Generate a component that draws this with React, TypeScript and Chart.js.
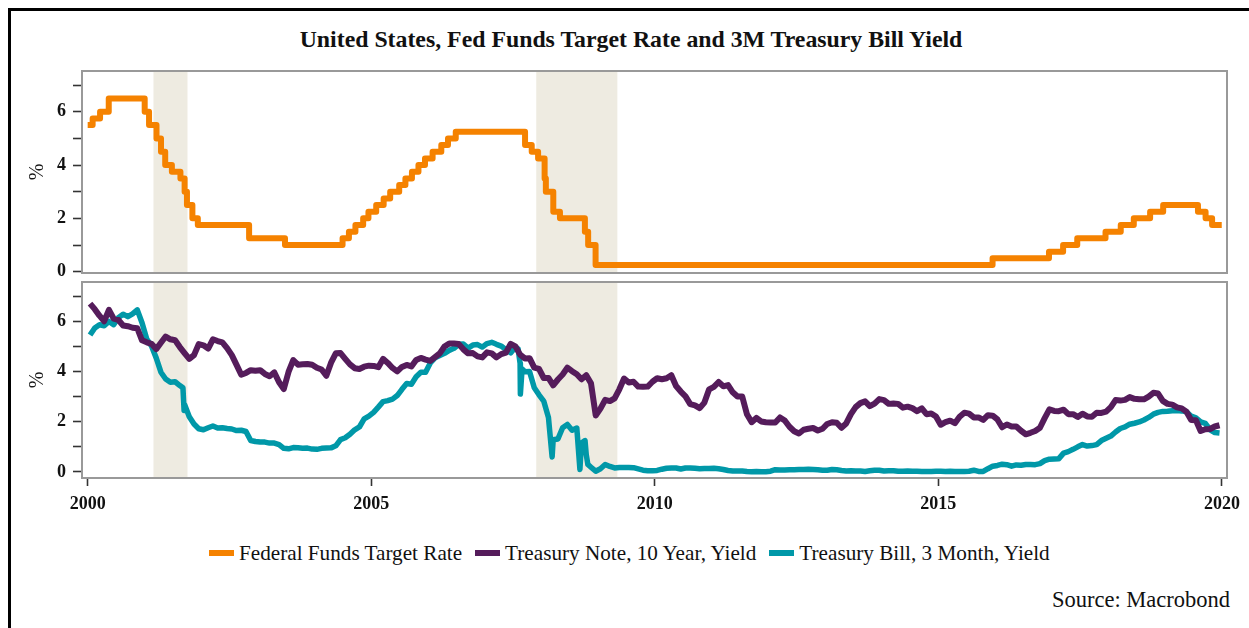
import { useEffect, useRef } from 'react';
import { Chart, registerables } from 'chart.js';

Chart.register(...registerables);

// ---------- DATA ----------
const fedFundsDates = [
  '2000-01-01', '2000-02-02', '2000-03-21', '2000-05-16', '2001-01-03', '2001-01-31',
  '2001-03-20', '2001-04-18', '2001-05-15', '2001-06-27', '2001-08-21', '2001-09-17',
  '2001-10-02', '2001-11-06', '2001-12-11', '2002-11-06', '2003-06-25', '2004-06-30',
  '2004-08-10', '2004-09-21', '2004-11-10', '2004-12-14', '2005-02-02', '2005-03-22',
  '2005-05-03', '2005-06-30', '2005-08-09', '2005-09-20', '2005-11-01', '2005-12-13',
  '2006-01-31', '2006-03-28', '2006-05-10', '2006-06-29', '2007-09-18', '2007-10-31',
  '2007-12-11', '2008-01-22', '2008-01-30', '2008-03-18', '2008-04-30', '2008-10-08',
  '2008-10-29', '2008-12-16', '2015-12-16', '2016-12-14', '2017-03-15', '2017-06-14',
  '2017-12-13', '2018-03-21', '2018-06-13', '2018-09-26', '2018-12-19', '2019-07-31',
  '2019-09-18', '2019-10-30', '2019-12-31',
];
const fedFundsValues = [
  5.5, 5.75, 6.0, 6.5, 6.0, 5.5,
  5.0, 4.5, 4.0, 3.75, 3.5, 3.0,
  2.5, 2.0, 1.75, 1.25, 1.0, 1.25,
  1.5, 1.75, 2.0, 2.25, 2.5, 2.75,
  3.0, 3.25, 3.5, 3.75, 4.0, 4.25,
  4.5, 4.75, 5.0, 5.25, 4.75, 4.5,
  4.25, 3.5, 3.0, 2.25, 2.0, 1.5,
  1.0, 0.25, 0.5, 0.75, 1.0, 1.25,
  1.5, 1.75, 2.0, 2.25, 2.5, 2.25,
  2.0, 1.75, 1.75,
];

// monthly values, Jan 2000 .. Dec 2019
const yieldStartYear = 2000;
const tenYearYield = [
  6.70, 6.48, 6.22, 6.00, 6.45, 6.10, 6.05, 5.83, 5.80, 5.74, 5.72, 5.24,
  5.16, 5.10, 4.89, 5.14, 5.39, 5.28, 5.24, 4.97, 4.73, 4.50, 4.65, 5.09,
  5.04, 4.91, 5.28, 5.21, 5.16, 4.93, 4.65, 4.26, 3.87, 3.94, 4.05, 4.03,
  4.05, 3.90, 3.81, 3.96, 3.57, 3.30, 3.98, 4.45, 4.27, 4.29, 4.30, 4.27,
  4.15, 4.08, 3.83, 4.35, 4.72, 4.73, 4.50, 4.28, 4.13, 4.10, 4.19, 4.23,
  4.22, 4.17, 4.50, 4.34, 4.14, 4.00, 4.18, 4.26, 4.20, 4.46, 4.54, 4.47,
  4.42, 4.57, 4.72, 4.99, 5.11, 5.11, 5.09, 4.88, 4.72, 4.73, 4.60, 4.56,
  4.76, 4.72, 4.56, 4.69, 4.75, 5.10, 5.00, 4.67, 4.52, 4.53, 4.15, 4.10,
  3.74, 3.74, 3.45, 3.68, 3.88, 4.15, 4.01, 3.89, 3.69, 3.85, 3.53, 2.25,
  2.52, 2.87, 2.82, 2.93, 3.29, 3.72, 3.56, 3.59, 3.40, 3.39, 3.40, 3.59,
  3.73, 3.69, 3.73, 3.85, 3.42, 3.20, 3.01, 2.70, 2.65, 2.54, 2.76, 3.29,
  3.39, 3.58, 3.41, 3.46, 3.17, 3.00, 3.00, 2.30, 1.98, 2.15, 2.01, 1.98,
  1.97, 1.97, 2.17, 2.05, 1.80, 1.62, 1.53, 1.68, 1.72, 1.75, 1.65, 1.72,
  1.91, 1.98, 1.96, 1.76, 1.93, 2.30, 2.58, 2.74, 2.81, 2.62, 2.72, 2.90,
  2.86, 2.71, 2.72, 2.71, 2.56, 2.60, 2.54, 2.42, 2.53, 2.30, 2.33, 2.21,
  1.88, 1.98, 2.04, 1.94, 2.20, 2.36, 2.32, 2.17, 2.17, 2.07, 2.26, 2.24,
  2.09, 1.78, 1.89, 1.81, 1.81, 1.64, 1.50, 1.56, 1.63, 1.76, 2.14, 2.49,
  2.43, 2.42, 2.48, 2.30, 2.30, 2.19, 2.32, 2.21, 2.20, 2.36, 2.35, 2.40,
  2.58, 2.86, 2.84, 2.87, 2.98, 2.91, 2.89, 2.89, 3.00, 3.15, 3.12, 2.83,
  2.71, 2.68, 2.57, 2.53, 2.40, 2.07, 2.06, 1.63, 1.70, 1.71, 1.81, 1.86,
];
const threeMonthYield = [
  5.45, 5.73, 5.86, 5.82, 5.99, 5.86, 6.14, 6.28, 6.18, 6.29, 6.45, 5.94,
  5.29, 5.01, 4.54, 3.97, 3.70, 3.57, 3.59, 3.44, 2.69, 2.20, 1.91, 1.72,
  1.68, 1.76, 1.83, 1.75, 1.76, 1.73, 1.71, 1.65, 1.66, 1.61, 1.25, 1.21,
  1.19, 1.19, 1.15, 1.15, 1.09, 0.94, 0.92, 0.97, 0.96, 0.94, 0.95, 0.91,
  0.90, 0.94, 0.95, 0.96, 1.04, 1.29, 1.36, 1.50, 1.68, 1.79, 2.11, 2.22,
  2.37, 2.58, 2.80, 2.84, 2.90, 3.04, 3.29, 3.52, 3.49, 3.79, 3.97, 3.97,
  4.34, 4.54, 4.63, 4.72, 4.84, 4.92, 5.08, 5.09, 4.93, 5.05, 5.07, 4.97,
  5.11, 5.16, 5.08, 5.01, 4.87, 4.74, 4.96, 4.32, 3.99, 4.00, 3.35, 3.07,
  2.82, 2.17, 1.28, 1.31, 1.76, 1.89, 1.66, 1.75, 1.15, 0.69, 0.19, 0.03,
  0.13, 0.30, 0.22, 0.16, 0.18, 0.18, 0.18, 0.17, 0.12, 0.07, 0.05, 0.05,
  0.06, 0.11, 0.15, 0.16, 0.16, 0.12, 0.16, 0.16, 0.15, 0.13, 0.14, 0.14,
  0.15, 0.13, 0.10, 0.06, 0.04, 0.04, 0.04, 0.02, 0.01, 0.02, 0.01, 0.01,
  0.03, 0.09, 0.08, 0.08, 0.09, 0.09, 0.10, 0.10, 0.11, 0.10, 0.09, 0.07,
  0.07, 0.10, 0.09, 0.06, 0.04, 0.05, 0.04, 0.04, 0.02, 0.05, 0.07, 0.07,
  0.04, 0.05, 0.05, 0.03, 0.03, 0.04, 0.03, 0.03, 0.02, 0.02, 0.02, 0.03,
  0.03, 0.02, 0.03, 0.02, 0.02, 0.02, 0.03, 0.07, 0.02, 0.02, 0.13, 0.23,
  0.26, 0.31, 0.29, 0.23, 0.28, 0.27, 0.30, 0.30, 0.29, 0.33, 0.45, 0.51,
  0.52, 0.53, 0.75, 0.81, 0.90, 1.00, 1.09, 1.03, 1.05, 1.09, 1.25, 1.34,
  1.43, 1.59, 1.73, 1.79, 1.90, 1.94, 1.99, 2.07, 2.17, 2.30, 2.37, 2.41,
  2.42, 2.44, 2.45, 2.43, 2.40, 2.22, 2.15, 1.99, 1.93, 1.68, 1.57, 1.55,
];
// extra daily extremes of the 3M bill (decimal year, %)
const threeMonthSpikeYears = [2001.68, 2001.70, 2007.59, 2007.63, 2007.66, 2008.19, 2008.68, 2008.70, 2008.77, 2008.82];
const threeMonthSpikeValues = [3.35, 2.45, 4.9, 3.1, 4.1, 0.6, 0.1, 0.9, 1.25, 0.3];

const recessionStarts = [2001.16, 2007.91];
const recessionEnds = [2001.76, 2009.34];

const xTickYears = [2000, 2005, 2010, 2015, 2020];
const yTickValues = [0, 1, 2, 3, 4, 5, 6, 7];
const yLabelValues = [0, 2, 4, 6];

const seriesNames = ['Federal Funds Target Rate', 'Treasury Note, 10 Year, Yield', 'Treasury Bill, 3 Month, Yield'];
const seriesColors = ['#F58200', '#551C5B', '#0098A8'];

// ---------- HELPERS ----------
const SERIF = "'Liberation Serif', 'Times New Roman', serif";

function toYear(d: string): number {
  const [y, m, dd] = d.split('-').map(Number);
  const start = Date.UTC(y, 0, 1);
  const end = Date.UTC(y + 1, 0, 1);
  return y + (Date.UTC(y, m - 1, dd) - start) / (end - start);
}

function monthly(values: number[]) {
  return values.map((v, i) => ({ x: yieldStartYear + Math.floor(i / 12) + ((i % 12) + 0.5) / 12, y: v }));
}

const recessionPlugin = {
  id: 'recessions',
  beforeDatasetsDraw(chart: any) {
    const { ctx, chartArea, scales } = chart;
    ctx.save();
    ctx.fillStyle = '#EEEBE1';
    recessionStarts.forEach((s, i) => {
      const x0 = scales.x.getPixelForValue(s);
      const x1 = scales.x.getPixelForValue(recessionEnds[i]);
      ctx.fillRect(x0, chartArea.top, x1 - x0, chartArea.bottom - chartArea.top);
    });
    ctx.restore();
  },
};

const framePlugin = {
  id: 'frame',
  afterDatasetsDraw(chart: any) {
    const { ctx, chartArea } = chart;
    ctx.save();
    ctx.strokeStyle = '#999999';
    ctx.lineWidth = 2;
    ctx.strokeRect(chartArea.left, chartArea.top, chartArea.right - chartArea.left, chartArea.bottom - chartArea.top);
    ctx.restore();
  },
};

function yAxis(min: number, max: number) {
  return {
    min,
    max,
    afterBuildTicks: (s: any) => {
      s.ticks = yTickValues.map((v) => ({ value: v }));
    },
    afterFit: (s: any) => {
      s.width = 82;
      s.paddingTop = 0;
      s.paddingBottom = 0;
    },
    ticks: {
      autoSkip: false,
      padding: 7,
      color: '#111111',
      font: { family: SERIF, weight: 'bold' as const, size: 18 },
      callback: (v: any) => (yLabelValues.includes(Number(v)) ? String(v) : ''),
    },
    grid: {
      drawOnChartArea: false,
      drawTicks: true,
      tickLength: 9,
      tickColor: '#333333',
      tickWidth: 1.6,
    },
    border: { display: false },
    title: {
      display: true,
      text: '%',
      color: '#1a1a1a',
      font: { family: SERIF, size: 20 },
      padding: { top: 26, bottom: 0 },
    },
  };
}

function xAxis(show: boolean) {
  return {
    type: 'linear' as const,
    display: show,
    min: 1999.9,
    max: 2020.09,
    afterBuildTicks: (s: any) => {
      s.ticks = xTickYears.map((v) => ({ value: v }));
    },
    afterFit: (s: any) => {
      s.height = show ? 40 : 0;
      s.paddingLeft = 0;
      s.paddingRight = 0;
    },
    ticks: {
      autoSkip: false,
      maxRotation: 0,
      padding: 8,
      color: '#111111',
      font: { family: SERIF, weight: 'bold' as const, size: 18 },
      callback: (v: any) => String(v),
    },
    grid: {
      drawOnChartArea: false,
      drawTicks: true,
      tickLength: 8,
      tickColor: '#333333',
      tickWidth: 1.6,
    },
    border: { display: false },
  };
}

const commonOptions = {
  responsive: false,
  maintainAspectRatio: false,
  animation: false as const,
  devicePixelRatio: 1,
  events: [] as any[],
  plugins: { legend: { display: false }, tooltip: { enabled: false }, title: { display: false } },
};

export default function App() {
  const topRef = useRef<HTMLCanvasElement>(null);
  const botRef = useRef<HTMLCanvasElement>(null);

  useEffect(() => {
    const fedData = fedFundsDates.map((d, i) => ({ x: toYear(d), y: fedFundsValues[i] }));
    const tenData = monthly(tenYearYield);
    const billData = monthly(threeMonthYield)
      .concat(threeMonthSpikeYears.map((x, i) => ({ x, y: threeMonthSpikeValues[i] })))
      .sort((a, b) => a.x - b.x);

    const top = new Chart(topRef.current!, {
      type: 'line',
      data: {
        datasets: [
          {
            label: seriesNames[0],
            data: fedData,
            borderColor: seriesColors[0],
            backgroundColor: seriesColors[0],
            borderWidth: 6,
            stepped: true,
            pointRadius: 0,
            borderJoinStyle: 'round',
          },
        ],
      },
      options: {
        ...commonOptions,
        layout: { autoPadding: false, padding: { top: 11, bottom: 12, left: 0, right: 22 } },
        scales: { x: xAxis(false), y: yAxis(-0.05, 7.53) },
      } as any,
      plugins: [recessionPlugin, framePlugin],
    });

    const bottom = new Chart(botRef.current!, {
      type: 'line',
      data: {
        datasets: [
          {
            label: seriesNames[1],
            data: tenData,
            borderColor: seriesColors[1],
            backgroundColor: seriesColors[1],
            borderWidth: 6,
            pointRadius: 0,
            tension: 0,
            borderJoinStyle: 'round',
          },
          {
            label: seriesNames[2],
            data: billData,
            borderColor: seriesColors[2],
            backgroundColor: seriesColors[2],
            borderWidth: 5.5,
            pointRadius: 0,
            tension: 0,
            borderJoinStyle: 'round',
          },
        ],
      },
      options: {
        ...commonOptions,
        layout: { autoPadding: false, padding: { top: 7, bottom: 0, left: 0, right: 22 } },
        scales: { x: xAxis(true), y: yAxis(-0.24, 7.56) },
      } as any,
      plugins: [recessionPlugin, framePlugin],
    });

    return () => {
      top.destroy();
      bottom.destroy();
    };
  }, []);

  return (
    <div style={{ position: 'relative', width: 1249, height: 628, overflow: 'hidden', background: '#fff' }}>
      <style>{`html,body{margin:0;padding:0;overflow:hidden;background:#fff}`}</style>
      <div
        style={{
          position: 'absolute',
          left: 8,
          top: 8,
          width: 1241,
          height: 620,
          borderLeft: '3px solid #000',
          borderTop: '3px solid #000',
          boxSizing: 'border-box',
        }}
      />
      <div
        style={{
          position: 'absolute',
          left: 0,
          top: 25,
          width: 1262,
          textAlign: 'center',
          fontFamily: SERIF,
          fontWeight: 'bold',
          fontSize: 23.8,
          lineHeight: '28px',
          color: '#111',
        }}
      >
        United States, Fed Funds Target Rate and 3M Treasury Bill Yield
      </div>
      <canvas
        ref={topRef}
        width={1249}
        height={225}
        style={{ position: 'absolute', left: 0, top: 60, width: 1249, height: 225 }}
      />
      <canvas
        ref={botRef}
        width={1249}
        height={243}
        style={{ position: 'absolute', left: 0, top: 275, width: 1249, height: 243 }}
      />
      <div
        style={{
          position: 'absolute',
          left: 209,
          top: 540,
          display: 'flex',
          alignItems: 'center',
          fontFamily: SERIF,
          fontSize: 21.2,
          lineHeight: '26px',
          color: '#111',
          whiteSpace: 'nowrap',
        }}
      >
        {seriesNames.map((n, i) => (
          <div key={n} style={{ display: 'flex', alignItems: 'center', marginRight: 13 }}>
            <span style={{ display: 'inline-block', width: 25, height: 6, background: seriesColors[i], marginRight: 5 }} />
            <span>{n}</span>
          </div>
        ))}
      </div>
      <div
        style={{
          position: 'absolute',
          right: 19,
          top: 586,
          fontFamily: SERIF,
          fontSize: 22.5,
          lineHeight: '28px',
          color: '#111',
          whiteSpace: 'nowrap',
        }}
      >
        Source: Macrobond
      </div>
    </div>
  );
}
